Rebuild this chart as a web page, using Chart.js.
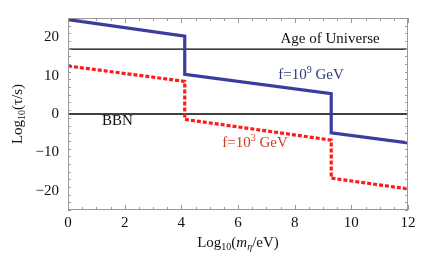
<!DOCTYPE html>
<html>
<head>
<meta charset="utf-8">
<script src="https://cdn.jsdelivr.net/npm/chart.js@4.4.1/dist/chart.umd.min.js"></script>
<style>
html,body{margin:0;padding:0;background:#fff;}
#wrap{width:429px;height:263px;}
</style>
</head>
<body>
<div id="wrap"><canvas id="c" width="429" height="263"></canvas></div>
<script>
// Data
const xTicks = [0, 2, 4, 6, 8, 10, 12];
const yTicks = [-20, -10, 0, 10, 20];
const blueX = [0, 4.12, 4.12, 9.29, 9.29, 12];
const blueY = [24.6, 20.3, 10.3, 5.3, -4.9, -7.5];
const redX = [0, 4.12, 4.12, 9.29, 9.29, 12];
const redY = [12.5, 8.5, -1.4, -6.8, -16.7, -19.5];
const ageLevel = 16.9;
const bbnLevel = 0;
const xRange = [0, 12];
const yRange = [-25, 25];

const labels = [
  {text: 'Age of Universe', x: 7.5, y: 19.5, color: '#111', align: 'left'},
  {text: 'f=10', sup: '9', rest: ' GeV', x: 8.58, y: 10.1, color: '#2e3a78', align: 'center'},
  {text: 'BBN', x: 1.74, y: -1.8, color: '#111', align: 'center'},
  {text: 'f=10', sup: '3', rest: ' GeV', x: 6.6, y: -7.6, color: '#d23a26', align: 'center'}
];

const pts = (xs, ys) => xs.map((x, i) => ({x: x, y: ys[i]}));

const SERIF = '"Liberation Serif", "DejaVu Serif", serif';

const framePlugin = {
  id: 'frame',
  afterDatasetsDraw(chart) {
    const ctx = chart.ctx, a = chart.chartArea;
    const xs = chart.scales.x, ys = chart.scales.y;
    ctx.save();
    ctx.strokeStyle = '#9a9a9a';
    ctx.lineWidth = 1;
    ctx.strokeRect(a.left + 0.5, a.top + 0.5, a.right - a.left - 1, a.bottom - a.top - 1);
    // ticks inward on all sides
    ctx.beginPath();
    for (let v = xRange[0]; v <= xRange[1] + 1e-9; v += 0.5) {
      const major = Math.abs(v / 2 - Math.round(v / 2)) < 1e-9;
      const L = major ? 5 : 3;
      const px = Math.round(xs.getPixelForValue(v)) + 0.5;
      ctx.moveTo(px, a.bottom); ctx.lineTo(px, a.bottom - L);
      ctx.moveTo(px, a.top); ctx.lineTo(px, a.top + L);
    }
    for (let v = yRange[0]; v <= yRange[1] + 1e-9; v += 2) {
      const major = Math.abs(v / 10 - Math.round(v / 10)) < 1e-9;
      const L = major ? 5 : 3;
      const py = Math.round(ys.getPixelForValue(v)) + 0.5;
      ctx.moveTo(a.left, py); ctx.lineTo(a.left + L, py);
      ctx.moveTo(a.right, py); ctx.lineTo(a.right - L, py);
    }
    ctx.stroke();

    // annotation labels
    ctx.textBaseline = 'middle';
    labels.forEach(l => {
      const px = xs.getPixelForValue(l.x), py = ys.getPixelForValue(l.y);
      ctx.fillStyle = l.color;
      ctx.font = '15px ' + SERIF;
      let w = ctx.measureText(l.text).width;
      let wsup = 0, wrest = 0;
      if (l.sup) {
        ctx.font = '10px ' + SERIF; wsup = ctx.measureText(l.sup).width;
        ctx.font = '15px ' + SERIF; wrest = ctx.measureText(l.rest).width;
      }
      const total = w + wsup + wrest;
      let x0 = l.align === 'center' ? px - total / 2 : px;
      ctx.textAlign = 'left';
      ctx.font = '15px ' + SERIF;
      ctx.fillText(l.text, x0, py);
      if (l.sup) {
        ctx.font = '10px ' + SERIF;
        ctx.fillText(l.sup, x0 + w, py - 5);
        ctx.font = '15px ' + SERIF;
        ctx.fillText(l.rest, x0 + w + wsup, py);
      }
    });

    // axis titles
    const drawParts = (parts, cx, cy) => {
      let total = 0;
      parts.forEach(p => { ctx.font = p.font; p.w = ctx.measureText(p.t).width; total += p.w; });
      let x = cx - total / 2;
      parts.forEach(p => { ctx.font = p.font; ctx.fillText(p.t, x, cy + (p.dy || 0)); x += p.w; });
    };
    ctx.fillStyle = '#111';
    ctx.textAlign = 'left';
    ctx.textBaseline = 'middle';
    drawParts([
      {t: 'Log', font: '15px ' + SERIF},
      {t: '10', font: '10px ' + SERIF, dy: 4},
      {t: '(', font: '15px ' + SERIF},
      {t: 'm', font: 'italic 15px ' + SERIF},
      {t: 'η', font: 'italic 10px ' + SERIF, dy: 4},
      {t: '/eV)', font: '15px ' + SERIF}
    ], (a.left + a.right) / 2, 243);
    ctx.save();
    ctx.translate(18, (a.top + a.bottom) / 2);
    ctx.rotate(-Math.PI / 2);
    drawParts([
      {t: 'Log', font: '15px ' + SERIF},
      {t: '10', font: '10px ' + SERIF, dy: 4},
      {t: '(τ/s)', font: '15px ' + SERIF}
    ], 0, 0);
    ctx.restore();
    ctx.restore();
  }
};

new Chart(document.getElementById('c'), {
  type: 'line',
  data: {
    datasets: [
      {data: pts(xRange, [ageLevel, ageLevel]), borderColor: '#000', borderWidth: 1.3, pointRadius: 0, order: 3},
      {data: pts(xRange, [bbnLevel, bbnLevel]), borderColor: '#000', borderWidth: 1.3, pointRadius: 0, order: 3},
      {data: pts(redX, redY), borderColor: '#ff1a1a', borderWidth: 3.2, borderDash: [4, 2], pointRadius: 0, order: 2, borderCapStyle: 'butt', borderJoinStyle: 'miter'},
      {data: pts(blueX, blueY), borderColor: '#3c3c9e', borderWidth: 3.2, pointRadius: 0, order: 1, borderJoinStyle: 'miter'}
    ]
  },
  options: {
    responsive: false,
    animation: false,
    layout: {padding: {left: 0, right: 21, top: 15, bottom: 0}},
    plugins: {legend: {display: false}, tooltip: {enabled: false}},
    scales: {
      x: {
        type: 'linear', min: xRange[0], max: xRange[1],
        afterBuildTicks: s => { s.ticks = xTicks.map(v => ({value: v})); },
        afterFit: s => { s.height = 53; },
        grid: {display: false, drawTicks: false},
        border: {display: false},
        ticks: {padding: 4, color: '#111', font: {family: SERIF, size: 15}, maxRotation: 0}
      },
      y: {
        type: 'linear', min: yRange[0], max: yRange[1],
        afterBuildTicks: s => { s.ticks = yTicks.map(v => ({value: v})); },
        afterFit: s => { s.width = 68; },
        grid: {display: false, drawTicks: false},
        border: {display: false},
        ticks: {padding: 9, color: '#111', font: {family: SERIF, size: 15},
          callback: v => String(v).replace('-', '\u2212')}
      }
    }
  },
  plugins: [framePlugin]
});
</script>
</body>
</html>
